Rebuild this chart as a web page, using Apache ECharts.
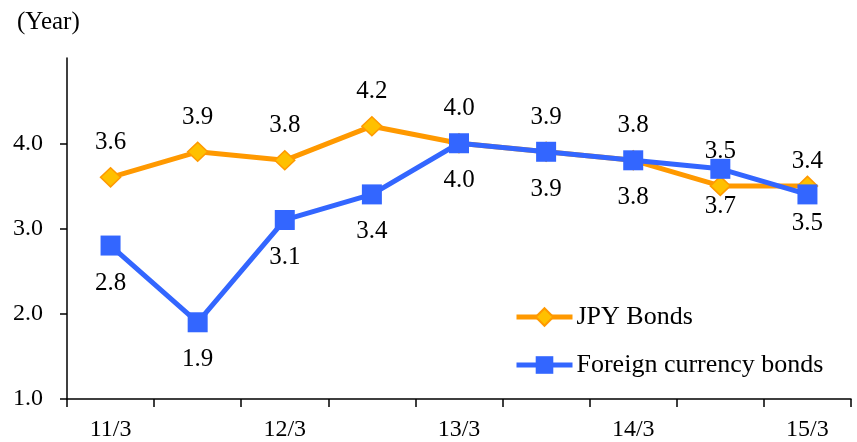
<!DOCTYPE html>
<html>
<head>
<meta charset="utf-8">
<title>Bond durations</title>
<script src="https://cdn.jsdelivr.net/npm/echarts@6/dist/echarts.min.js"></script>
<style>
  html, body { margin: 0; padding: 0; background: #fff; }
  #chart { width: 857px; height: 442px; }
</style>
</head>
<body>
<div id="chart"></div>
<script>
// Half-year periods (fiscal year / month)
const periods = ['11/3', '11/9', '12/3', '12/9', '13/3', '13/9', '14/3', '14/9', '15/3'];
// Average remaining maturity, years
const jpyBonds = [3.6, 3.9, 3.8, 4.2, 4.0, 3.9, 3.8, 3.5, 3.5];
const foreignBonds = [2.8, 1.9, 3.1, 3.4, 4.0, 3.9, 3.8, 3.7, 3.4];
const yTicks = [1, 2, 3, 4];

const FONT = '"Liberation Serif", "Times New Roman", serif';
const ORANGE = '#FF9900';
const ORANGE_FILL = '#FFC000';
const BLUE = '#3366FF';

// JPY labels sit above, foreign labels below; the last period swaps them
const lastIdx = periods.length - 1;
const jpyData = jpyBonds.map((v, i) => i === lastIdx
  ? { value: v, label: { position: 'bottom', distance: 15 } }
  : v);
const foreignData = foreignBonds.map((v, i) => i === lastIdx
  ? { value: v, label: { position: 'top', distance: 10 } }
  : v);

const chart = echarts.init(document.getElementById('chart'), null, { renderer: 'canvas' });

chart.setOption({
  animation: false,
  backgroundColor: '#fff',
  textStyle: { fontFamily: FONT, color: '#000' },
  grid: { left: 67, right: 6, top: 58, bottom: 42, containLabel: false },
  graphic: [{
    type: 'text',
    left: 17,
    top: 10,
    style: { text: '(Year)', font: '25px ' + FONT, fill: '#000' }
  }],
  legend: {
    orient: 'vertical',
    left: 509,
    top: 299,
    padding: 5,
    itemWidth: 56,
    itemHeight: 22,
    itemGap: 22,
    lineStyle: { width: 5 },
    textStyle: { fontFamily: FONT, fontSize: 26, color: '#000', lineHeight: 26, padding: [0, 0, 0, -1] },
    data: ['JPY Bonds', 'Foreign currency bonds']
  },
  xAxis: {
    type: 'category',
    data: periods,
    boundaryGap: true,
    axisLine: { lineStyle: { color: '#000', width: 1.5 } },
    axisTick: { show: true, interval: 0, length: 8, lineStyle: { color: '#000', width: 1.5 } },
    axisLabel: { interval: 1, margin: 19, fontFamily: FONT, fontSize: 24, color: '#000' },
    splitLine: { show: false }
  },
  yAxis: {
    type: 'value',
    min: 1,
    max: 5,
    interval: 1,
    axisLine: { show: true, lineStyle: { color: '#000', width: 1.5 } },
    axisTick: { show: true, length: 7, customValues: yTicks, lineStyle: { color: '#000', width: 1.5 } },
    axisLabel: {
      customValues: yTicks,
      margin: 24,
      fontFamily: FONT,
      fontSize: 24,
      color: '#000',
      formatter: v => Number(v).toFixed(1)
    },
    splitLine: { show: false }
  },
  series: [
    {
      name: 'JPY Bonds',
      type: 'line',
      data: jpyData,
      symbol: 'diamond',
      symbolSize: [20, 19],
      showAllSymbol: true,
      lineStyle: { color: ORANGE, width: 5 },
      itemStyle: { color: ORANGE_FILL, borderColor: ORANGE, borderWidth: 1.5 },
      label: {
        show: true,
        position: 'top',
        distance: 12,
        fontFamily: FONT,
        fontSize: 25,
        color: '#000',
        formatter: p => Number(p.value).toFixed(1)
      },
      emphasis: { disabled: true },
      z: 2
    },
    {
      name: 'Foreign currency bonds',
      type: 'line',
      data: foreignData,
      symbol: 'rect',
      symbolSize: 20,
      showAllSymbol: true,
      lineStyle: { color: BLUE, width: 5 },
      itemStyle: { color: BLUE, borderColor: BLUE, borderWidth: 0 },
      label: {
        show: true,
        position: 'bottom',
        distance: 15,
        fontFamily: FONT,
        fontSize: 25,
        color: '#000',
        formatter: p => Number(p.value).toFixed(1)
      },
      emphasis: { disabled: true },
      z: 3
    }
  ]
});
</script>
</body>
</html>
